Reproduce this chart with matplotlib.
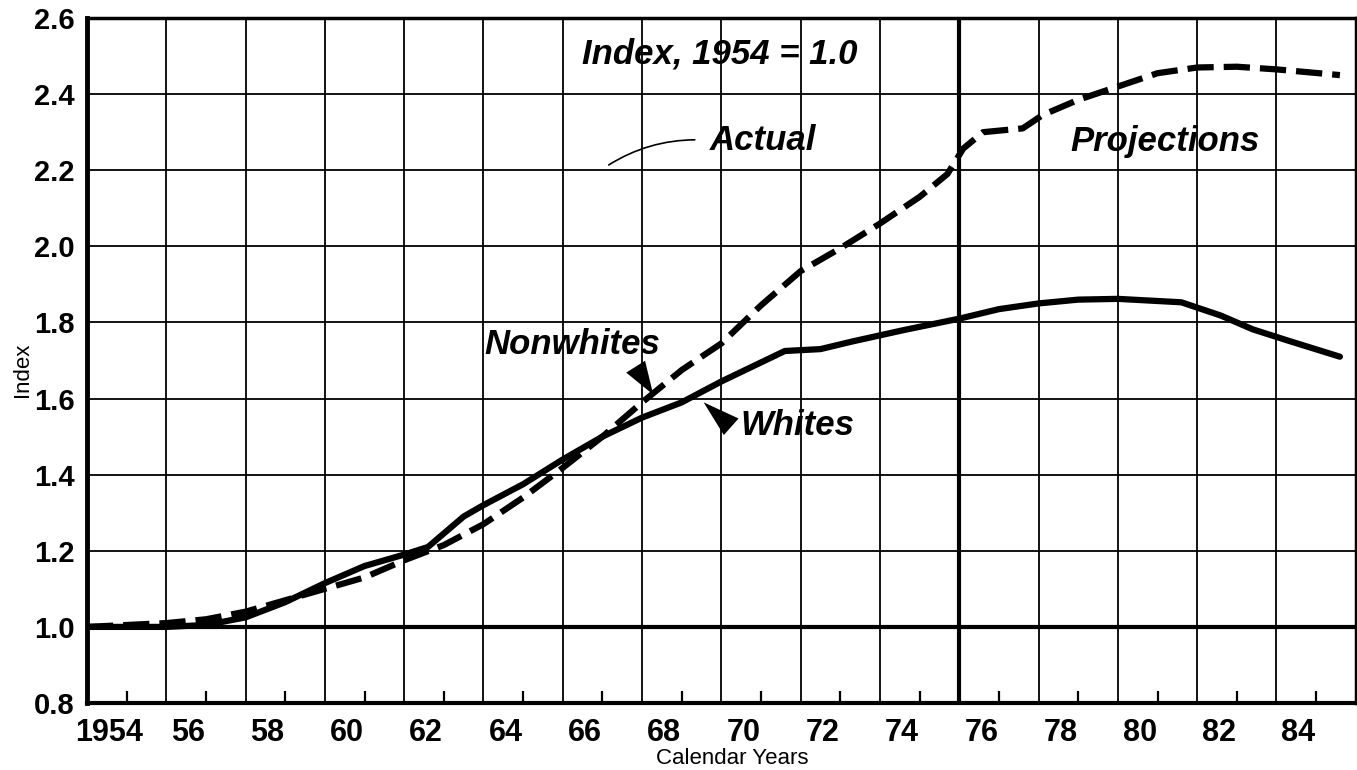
import matplotlib
matplotlib.use("Agg")
import matplotlib.pyplot as plt
import matplotlib.transforms as mtransforms
from matplotlib.ticker import FixedLocator

# Whites (solid line) - index, 1954 = 1.0
years_whites = [1954, 1956, 1957, 1958, 1959, 1960, 1961, 1962, 1962.6, 1963.5, 1964,
                1965, 1966, 1967, 1968, 1969, 1970, 1971.6, 1972.5, 1973.3, 1974.6,
                1976, 1977, 1978, 1979, 1980, 1981.6, 1982.6, 1983.4, 1984.3, 1985.6]
whites = [1.00, 1.00, 1.005, 1.025, 1.065, 1.115, 1.16, 1.19, 1.21, 1.29, 1.32,
          1.375, 1.44, 1.50, 1.55, 1.59, 1.645, 1.725, 1.73, 1.75, 1.78,
          1.81, 1.835, 1.85, 1.86, 1.862, 1.853, 1.818, 1.782, 1.752, 1.71]

# Nonwhites (dashed line)
years_nonwhites = [1954, 1955, 1956, 1957, 1958, 1959, 1960, 1961, 1962, 1963, 1964,
                   1965, 1966, 1967, 1968, 1969, 1970, 1971, 1972, 1973, 1974, 1975,
                   1975.7, 1976.1, 1976.6, 1977.6, 1978.1, 1979, 1980, 1981, 1982,
                   1983, 1984, 1985.6]
nonwhites = [1.00, 1.005, 1.01, 1.02, 1.04, 1.07, 1.10, 1.13, 1.175, 1.215, 1.27,
             1.34, 1.418, 1.50, 1.59, 1.675, 1.745, 1.845, 1.935, 1.995, 2.06, 2.13,
             2.19, 2.257, 2.30, 2.31, 2.345, 2.385, 2.42, 2.455, 2.47,
             2.472, 2.465, 2.45]

xtick_years = list(range(1954, 1986, 2))
xtick_labels = ["1954"] + [str(y)[2:] for y in range(1956, 1986, 2)]
odd_years = list(range(1955, 1986, 2))
ytick_values = [0.8, 1.0, 1.2, 1.4, 1.6, 1.8, 2.0, 2.2, 2.4, 2.6]
ytick_labels = ["0.8", "1.0", "1.2", "1.4", "1.6", "1.8", "2.0", "2.2", "2.4", "2.6"]
actual_end = 1976

narrow = ["Liberation Sans Narrow", "Liberation Sans"]
bold = ["Liberation Sans"]

fig = plt.figure(figsize=(13.57, 7.70), dpi=100)
ax = fig.add_axes([0.0641, 0.087, 0.935, 0.8896])

ax.plot(years_whites, whites, color="black", lw=4.5, solid_capstyle="round", zorder=5)
ax.plot(years_nonwhites, nonwhites, color="black", lw=4.5, dashes=(4.2, 1.6), zorder=5)

ax.set_xlim(1954, 1986)
ax.set_ylim(0.8, 2.6)

# grid: even-year verticals, 0.2 horizontals
ax.xaxis.set_major_locator(FixedLocator(xtick_years))
ax.xaxis.set_minor_locator(FixedLocator(odd_years))
ax.set_yticks(ytick_values)
ax.set_yticklabels(ytick_labels, fontfamily=bold, fontweight="bold", fontsize=21)
ax.set_xticklabels(xtick_labels, fontfamily=narrow, fontweight="bold", fontsize=22)
ax.grid(which="major", color="black", lw=1.3)
ax.tick_params(axis="x", which="major", length=0, pad=11)
ax.tick_params(axis="x", which="minor", direction="in", length=9, width=1.6)
ax.tick_params(axis="y", length=0, pad=9)

# labels sit in the middle of each calendar year
shift = mtransforms.ScaledTranslation(0.22, 0, fig.dpi_scale_trans)
for lab in ax.get_xticklabels():
    lab.set_transform(lab.get_transform() + shift)

ax.axhline(1.0, color="black", lw=3, zorder=4)
ax.axvline(actual_end, color="black", lw=3, zorder=4)

for side, w in [("left", 3.5), ("bottom", 3), ("top", 2.5), ("right", 2.5)]:
    ax.spines[side].set_linewidth(w)

ann = dict(family=narrow, fontweight="bold", style="italic", fontsize=25,
           ha="center", va="center")
ax.text(1969.96, 2.505, "Index, 1954 = 1.0", **ann)
ax.text(1971.05, 2.277, "Actual", **ann)
ax.text(1981.18, 2.275, "Projections", **ann)
ax.text(1966.25, 1.743, "Nonwhites", **ann)
ax.text(1971.93, 1.529, "Whites", **ann)

ax.annotate("", xy=(1967.1, 2.21), xytext=(1969.4, 2.28),
            arrowprops=dict(arrowstyle="-", lw=1.2, color="black",
                            connectionstyle="arc3,rad=0.15"))
wedge = dict(arrowstyle="wedge,tail_width=0.8,shrink_factor=0.5", fc="black",
             ec="black", lw=0, mutation_scale=20)
ax.annotate("", xy=(1968.32, 1.604), xytext=(1967.8, 1.69), arrowprops=wedge)
ax.annotate("", xy=(1969.5, 1.595), xytext=(1970.3, 1.521), arrowprops=wedge)

fig.text(22 / 1357, 1 - 370 / 770, "Index", rotation=90, ha="center", va="center",
         fontsize=16, family=bold)
fig.text(732 / 1357, 1 - 758 / 770, "Calendar Years", ha="center", va="center",
         fontsize=16, family=bold)

fig.savefig("out.png", dpi=100)
